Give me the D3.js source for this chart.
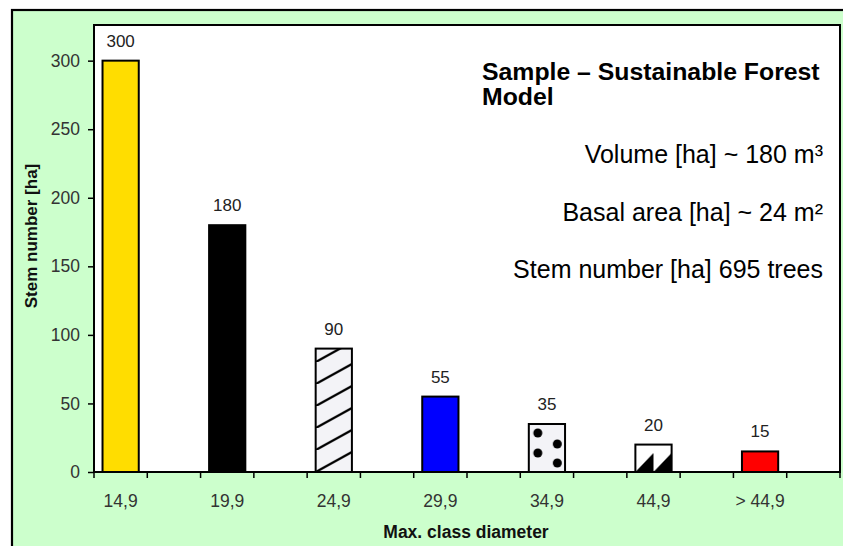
<!DOCTYPE html>
<html>
<head>
<meta charset="utf-8">
<script src="https://cdn.jsdelivr.net/npm/d3@7"></script>
<style>
  body { margin: 0; background: #fff; }
  svg text { font-family: "Liberation Sans", Arial, sans-serif; }
</style>
</head>
<body>
<div id="chart"></div>
<script>
var categories = ["14,9", "19,9", "24,9", "29,9", "34,9", "44,9", "> 44,9"];
var stems = [300, 180, 90, 55, 35, 20, 15];
var fills = ["#FFDD00", "#000000", "url(#hatch)", "#0000FF", "url(#dots)", "url(#tri)", "#FF0000"];
var yTicks = [0, 50, 100, 150, 200, 250, 300];
var titleLines = ["Sample \u2013 Sustainable Forest", "Model"];
var infoLines = ["Volume [ha] ~ 180 m\u00b3", "Basal area [ha] ~ 24 m\u00b2", "Stem number [ha] 695 trees"];

var width = 843,
    height = 546;

var plot = {left: 94, top: 25, right: 840, bottom: 472};

var svg = d3.select("#chart").append("svg")
    .attr("width", width)
    .attr("height", height);

// each class gets an empty slot after it, as in the original sheet
var slots = [];
categories.forEach(function(c) { slots.push(c); slots.push(c + "_"); });

var x = d3.scaleBand()
    .domain(slots)
    .range([plot.left, plot.right]);

var y = d3.scaleLinear()
    .domain([0, 326])
    .range([plot.bottom, plot.top]);

var barW = x.step() * 0.68;

function barX(i) { return x(categories[i]) + (x.step() - barW) / 2; }

var defs = svg.append("defs");

var hatch = defs.append("pattern")
    .attr("id", "hatch")
    .attr("patternUnits", "userSpaceOnUse")
    .attr("width", 40).attr("height", 22)
    .attr("x", barX(2))
    .attr("y", plot.bottom);
hatch.append("rect").attr("width", 40).attr("height", 22).attr("fill", "#f3f3f7");
hatch.append("path")
    .attr("d", "M-4,24.2L44,-2.2")
    .attr("stroke", "#000").attr("stroke-width", 2.4);

var dots = defs.append("pattern")
    .attr("id", "dots")
    .attr("patternUnits", "userSpaceOnUse")
    .attr("width", 38).attr("height", 45)
    .attr("x", barX(4))
    .attr("y", 428);
dots.append("rect").attr("width", 38).attr("height", 45).attr("fill", "#f3f3f7");
[[9, 5], [28.5, 16], [9, 25], [28.5, 35]].forEach(function(p) {
  dots.append("circle").attr("cx", p[0]).attr("cy", p[1]).attr("r", 4.5).attr("fill", "#000");
});

var tri = defs.append("pattern")
    .attr("id", "tri")
    .attr("patternUnits", "userSpaceOnUse")
    .attr("width", barW / 2).attr("height", 60)
    .attr("x", barX(5))
    .attr("y", plot.bottom - 60);
tri.append("rect").attr("width", barW / 2).attr("height", 60).attr("fill", "#fff");
tri.append("path")
    .attr("d", "M0,60L" + (barW / 2) + ",60L" + (barW / 2) + ",41Z")
    .attr("fill", "#000");

// outer frame
svg.append("rect")
    .attr("x", 12).attr("y", 10)
    .attr("width", 860).attr("height", 560)
    .attr("fill", "#CCFFCC")
    .attr("stroke", "#000")
    .attr("stroke-width", 2.2);

// plot area
svg.append("rect")
    .attr("x", plot.left).attr("y", plot.top)
    .attr("width", plot.right - plot.left)
    .attr("height", plot.bottom - plot.top)
    .attr("fill", "#fff")
    .attr("stroke", "#000")
    .attr("stroke-width", 2);

// bars
svg.selectAll(".bar")
    .data(stems)
  .enter().append("rect")
    .attr("class", "bar")
    .attr("x", function(d, i) { return barX(i); })
    .attr("y", function(d) { return y(d); })
    .attr("width", barW)
    .attr("height", function(d) { return y(0) - y(d); })
    .attr("fill", function(d, i) { return fills[i]; })
    .attr("stroke", "#000")
    .attr("stroke-width", 2);

// value labels
svg.selectAll(".val")
    .data(stems)
  .enter().append("text")
    .attr("class", "val")
    .attr("x", function(d, i) { return x(categories[i]) + x.step() / 2; })
    .attr("y", function(d) { return y(d) - 14; })
    .attr("text-anchor", "middle")
    .attr("font-size", "17px")
    .attr("fill", "#222")
    .text(function(d) { return d; });

// y axis
var yAxis = d3.axisLeft(y)
    .tickValues(yTicks)
    .tickSize(6)
    .tickPadding(8);
var gy = svg.append("g")
    .attr("transform", "translate(" + plot.left + ",0)")
    .call(yAxis);
gy.select(".domain").remove();
gy.selectAll("line").attr("stroke", "#000").attr("stroke-width", 1.5);
gy.selectAll("text")
    .attr("font-size", "17.5px")
    .attr("fill", "#333")
    .style("font-family", "'Liberation Sans', Arial, sans-serif");

// x axis: ticks at slot boundaries, labels on classes
var bounds = d3.range(slots.length + 1).map(function(i) { return plot.left + i * x.step(); });
svg.selectAll(".xtick")
    .data(bounds)
  .enter().append("line")
    .attr("class", "xtick")
    .attr("x1", function(d) { return d; })
    .attr("x2", function(d) { return d; })
    .attr("y1", plot.bottom)
    .attr("y2", plot.bottom + 6)
    .attr("stroke", "#000")
    .attr("stroke-width", 1.5);

svg.selectAll(".xlab")
    .data(categories)
  .enter().append("text")
    .attr("class", "xlab")
    .attr("x", function(d) { return x(d) + x.step() / 2; })
    .attr("y", 507)
    .attr("text-anchor", "middle")
    .attr("font-size", "17.5px")
    .attr("fill", "#333")
    .text(function(d) { return d; });

// axis titles
svg.append("text")
    .attr("x", 466).attr("y", 538)
    .attr("text-anchor", "middle")
    .attr("font-size", "17.5px")
    .attr("font-weight", "bold")
    .attr("fill", "#111")
    .text("Max. class diameter");

svg.append("text")
    .attr("transform", "translate(37,236) rotate(-90)")
    .attr("text-anchor", "middle")
    .attr("font-size", "17px")
    .attr("font-weight", "bold")
    .attr("fill", "#111")
    .text("Stem number [ha]");

// annotation
svg.selectAll(".title")
    .data(titleLines)
  .enter().append("text")
    .attr("class", "title")
    .attr("x", 482)
    .attr("y", function(d, i) { return 80 + i * 25; })
    .attr("font-size", "24.8px")
    .attr("font-weight", "bold")
    .attr("fill", "#000")
    .text(function(d) { return d; });

svg.selectAll(".info")
    .data(infoLines)
  .enter().append("text")
    .attr("class", "info")
    .attr("x", 823)
    .attr("y", function(d, i) { return 163 + i * 57.5; })
    .attr("text-anchor", "end")
    .attr("font-size", "25px")
    .attr("fill", "#000")
    .text(function(d) { return d; });
</script>
</body>
</html>
